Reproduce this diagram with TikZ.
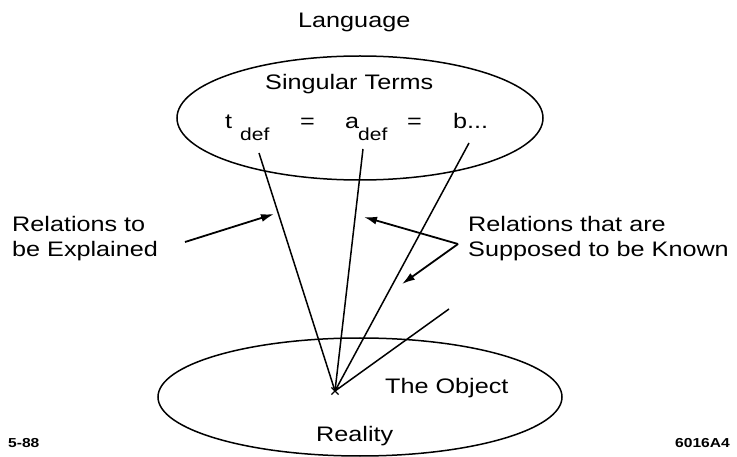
\documentclass[tikz,border=0pt]{standalone}
\usepackage{fontspec}
\setmainfont[FakeStretch=1.2]{Liberation Sans}
\usetikzlibrary{arrows.meta,positioning,shapes.geometric,shapes.misc}

\begin{document}
\begin{tikzpicture}[x=1pt,y=-1pt,
  font=\fontsize{21}{25}\selectfont,
  realm/.style={draw,ellipse,line width=1.5pt,inner sep=0pt},
  rel/.style={line width=1.5pt},
  ar/.style={line width=1.8pt,-{Latex[length=13pt,width=8pt]}},
  txt/.style={inner sep=0pt,anchor=base west},
  lbl/.style={align=left,inner sep=0pt,anchor=north west},
  sub/.style={font=\fontsize{17.5}{18}\selectfont,inner sep=0pt,anchor=base west},
  tag/.style={font=\fontsize{13}{14}\selectfont\bfseries,inner sep=0pt}]
\useasboundingbox (0,0) rectangle (737,457);
% language side
\node[txt] (lang) at (298,28) {Language};
\node[realm,minimum width=366pt,minimum height=124pt] (terms) at (360,118) {};
\node[txt] (sing) at (265,90) {Singular Terms};
\node[txt] (t) at (225,129) {t};
\node[sub] (td) at (240,141) {def};
\node[txt] (eq1) at (300,129) {=};
\node[txt] (a) at (345,129) {a};
\node[sub] (ad) at (358,141) {def};
\node[txt] (eq2) at (407,129) {=};
\node[txt] (b) at (453,129) {b...};
% reality side
\node[realm,minimum width=404pt,minimum height=118pt] (real) at (360,397) {};
\node[draw,cross out,line width=1.2pt,minimum size=6pt,inner sep=0pt] (obj) at (335,391) {};
\node[txt] (theobj) at (385,393) {The Object};
\node[txt] (reality) at (316,441) {Reality};
% relations
\coordinate (tend) at (259,153);
\coordinate (aend) at (363,149);
\coordinate (bend) at (469,143);
\coordinate (free) at (449,309);
\draw[rel] (obj.center) -- (tend);
\draw[rel] (obj.center) -- (aend);
\draw[rel] (obj.center) -- (bend);
\draw[rel] (obj.center) -- (free);
% labels and arrows
\node[lbl] (expl) at (12,216) {Relations to\\be Explained};
\node[lbl] (known) at (468,216) {Relations that are\\Supposed to be Known};
\coordinate (kfork) at (458,244);
\draw[ar] (185,242) -- (274,214);
\draw[ar] (kfork) -- (364,217);
\draw[ar] (kfork) -- (402,284);
\node[tag,anchor=base west] (date) at (8,447) {5-88};
\node[tag,anchor=base east] (fig) at (730,447) {6016A4};
\end{tikzpicture}
\end{document}
